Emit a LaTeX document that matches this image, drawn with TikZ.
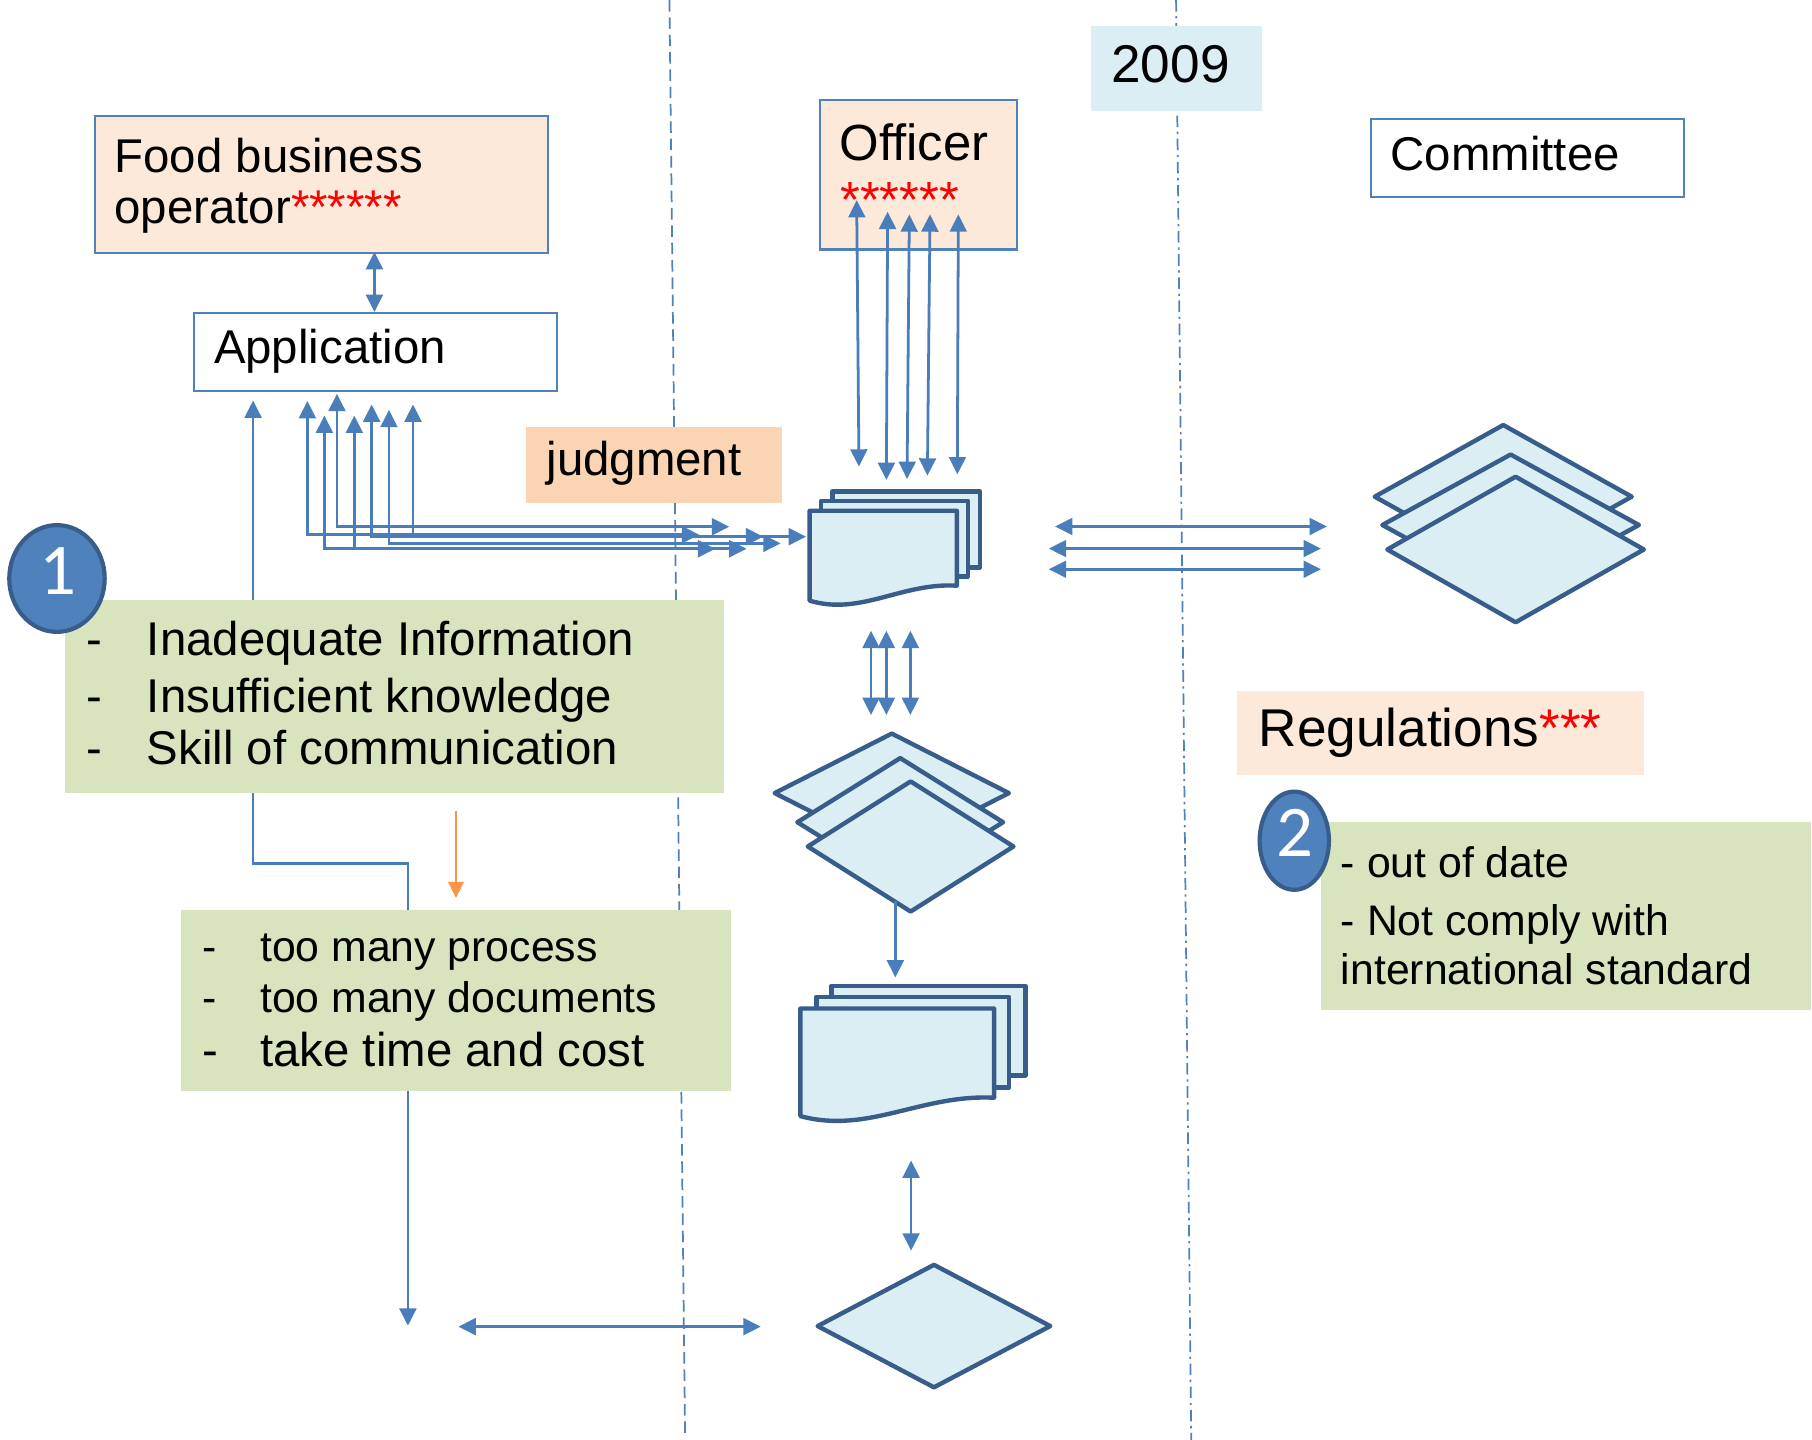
\documentclass[tikz,border=0pt]{standalone}
\usepackage{fontspec}
\setmainfont{Liberation Sans}
\newfontfamily\calib{Carlito}
\usetikzlibrary{arrows.meta,shapes.geometric}
\definecolor{ln}{HTML}{4A7EBB}
\definecolor{bx}{HTML}{4F81BD}
\definecolor{dk}{HTML}{385D8A}
\definecolor{sf}{HTML}{DBEEF4}
\definecolor{pe}{HTML}{FDE9D9}
\definecolor{pj}{HTML}{FBD4B4}
\definecolor{gr}{HTML}{D7E4BD}
\definecolor{og}{HTML}{F79646}
\begin{document}
\begin{tikzpicture}[x=1pt,y=-1pt,>={Triangle[length=15pt,width=14.5pt]},
  conn/.style={draw=ln,line width=2.4pt},
  box/.style={draw=bx,line width=1.8pt,inner sep=0,anchor=north west},
  flat/.style={inner sep=0,anchor=north west},
  txt/.style={inner sep=0,anchor=base west,font=\fontsize{41}{49}\selectfont},
  txtb/.style={inner sep=0,anchor=base west,font=\fontsize{46}{55}\selectfont},
  txts/.style={inner sep=0,anchor=base west,font=\fontsize{37}{44}\selectfont},
  shp/.style={draw=dk,fill=sf,line width=3.8pt,line join=round},
  dia/.style={shp,diamond,inner sep=0,outer sep=0},
  badge/.style={ellipse,draw=dk,fill=bx,line width=3.6pt,inner sep=0},
  badgetxt/.style={inner sep=0,anchor=base,text=white,font=\calib\fontsize{63}{63}\selectfont}]
\useasboundingbox (0,0) rectangle (1568,1246);
\fill[white] (0,0) rectangle (1568,1246);

% lane separators
\draw[bx,line width=1.5pt,dash pattern=on 10pt off 5pt] (579.3,0) -- (592.8,1241);
\draw[bx,line width=1.5pt,dash pattern=on 10pt off 4pt on 2pt off 4pt] (1017.7,0) -- (1030.8,1246);

% long elbow connector behind the green boxes
\coordinate (lt) at (219,346.6);
\coordinate (lb) at (353,1147.2);
\draw[conn,<->] (lt) -- (219,747.3) -- (353,747.3) -- (lb);

% boxes
\node[box,fill=pe,minimum width=392.2pt,minimum height=118.2pt] (food) at (81,99.5) {};
\node[box,fill=white,minimum width=314pt,minimum height=67.6pt] (app) at (167,269.8) {};
\node[box,fill=pe,minimum width=170.3pt,minimum height=129.4pt] (officer) at (708.7,85.6) {};
\node[box,fill=white,minimum width=271.2pt,minimum height=67.6pt] (committee) at (1185.5,102.3) {};
\node[flat,fill=sf,minimum width=148pt,minimum height=72.8pt] (year) at (944,22.7) {};
\node[flat,fill=pj,minimum width=221.7pt,minimum height=66.4pt] (judg) at (455,368.9) {};
\node[flat,fill=pe,minimum width=352.2pt,minimum height=72.6pt] (regs) at (1070.5,598) {};
\node[flat,fill=gr,minimum width=570.1pt,minimum height=167.5pt] (g1) at (56.4,518.6) {};
\node[flat,fill=gr,minimum width=476.6pt,minimum height=156.5pt] (g2) at (156,787) {};
\node[flat,fill=gr,minimum width=424pt,minimum height=162.7pt] (g3) at (1143.2,710.8) {};

% texts
\node[txt] (foodA) at (99,149.2) {Food business};
\node[txt] (foodB) at (99,193) {operator{\color{red}******}};
\node[txt] (appT) at (185,314.3) {Application};
\node[inner sep=0,anchor=base west,font=\fontsize{44}{52}\selectfont] (offT) at (726.3,139.3) {Officer};
\node[inner sep=0,anchor=base west,font=\fontsize{44}{52}\selectfont,text=red] (offS) at (727,188.5) {******};
\node[txt] (comT) at (1203.2,147.2) {Committee};
\node[txtb] (yearT) at (961.5,71.6) {2009};
\node[txt] (judgT) at (472.7,411.8) {judgment};
\node[txtb] (regT) at (1089,645.7) {Regulations{\color{red}***}};
\node[txt] (g1a) at (74.6,567) {\makebox[52.3pt][l]{-}Inadequate Information};
\node[txt] (g1b) at (74.6,616.7) {\makebox[52.3pt][l]{-}Insufficient knowledge};
\node[txt] (g1c) at (74.6,661.5) {\makebox[52.3pt][l]{-}Skill of communication};
\node[txts] (g2a) at (175,831.7) {\makebox[50pt][l]{-}too many process};
\node[txts] (g2b) at (175,875.8) {\makebox[50pt][l]{-}too many documents};
\node[txt] (g2c) at (175,923.2) {\makebox[50pt][l]{-}take time and cost};
\node[txts] (g3a) at (1160.2,759.3) {- out of date};
\node[txts] (g3b) at (1160.2,809.9) {- Not comply with};
\node[txts] (g3c) at (1160.2,851.6) {international standard};

% badges
\node[badge,minimum width=82.6pt,minimum height=92.4pt] (c1) at (49.3,500.6) {};
\node[badgetxt] (c1t) at (50.4,514.3) {1};
\node[badge,minimum width=60pt,minimum height=85pt] (c2) at (1120,727.5) {};
\node[badgetxt] (c2t) at (1120.4,741.4) {2};

% document stack 1
\draw[shp] (720.5,425.2) rectangle (847.8,491);
\draw[shp] (710.4,433.3) rectangle (837.4,499);
\draw[shp] (700.6,442) -- (828,442) -- (828,506.8) .. controls (780,504) and (745,533) .. (700.6,519.8) -- cycle;
\coordinate (doc1) at (764,478);

% document stack 2
\draw[shp] (719.4,853) rectangle (887.3,930.5);
\draw[shp] (706.4,862.6) rectangle (873.1,941.2);
\draw[shp] (692.6,872.7) -- (860.2,872.7) -- (860.2,949.9) .. controls (797,946.7) and (750.9,981.7) .. (692.6,965.8) -- cycle;
\coordinate (doc2) at (776,915);

% diamond stack right
\node[dia,minimum width=222.4pt,minimum height=124pt] (dr1) at (1300.8,429.8) {};
\node[dia,minimum width=222pt,minimum height=122pt] (dr2) at (1307.2,454.3) {};
\node[dia,minimum width=222pt,minimum height=126pt] (dr3) at (1311.5,475.5) {};

% diamond stack middle
\node[dia,minimum width=202.7pt,minimum height=103pt] (dm1) at (771.7,686.3) {};
\node[dia,minimum width=178pt,minimum height=111pt] (dm2) at (779,711.5) {};
\node[dia,minimum width=178pt,minimum height=112.6pt] (dm3) at (788,732.5) {};

% bottom diamond
\node[dia,minimum width=201.3pt,minimum height=106pt] (db) at (808.2,1147.5) {};

% food <-> application
\coordinate (fa1) at (324,218);
\coordinate (fa2) at (324,270);
\draw[conn,<->] (fa1) -- (fa2);

% officer <-> documents
\foreach \i/\xa/\ya/\xb/\yb in {1/741.3/173.1/743.3/403.8, 2/768.1/183.2/767/415.4, 3/786.9/185.5/784.9/414.5, 4/804.8/185.5/802.5/411.6, 5/829.3/185.5/828.4/410.5}{
  \coordinate (ob\i) at (\xb,\yb);
  \coordinate (ou\i) at (\xa,\ya);
  \draw[conn,<->] (ou\i) -- (ob\i);
}

% application <-> documents
\foreach \i/\x/\ya/\yb/\xe in {1/266/347/462.7/605, 2/280.7/359.6/474.9/619, 3/291.6/340.8/455.8/631, 4/306.6/359.6/474.9/646, 5/321.6/350/464.4/660.5, 6/336.6/354.7/470.2/675.5, 7/357.4/350/464.4/697.5}{
  \coordinate (ct\i) at (\x,\ya);
  \coordinate (ce\i) at (\xe,\yb);
  \draw[conn,<->] (ct\i) |- (ce\i);
}

% documents <-> middle diamonds
\foreach \i/\x in {1/753.7, 2/767, 3/787.8}{
  \coordinate (dt\i) at (\x,545.8);
  \coordinate (dd\i) at (\x,618.7);
  \draw[conn,<->] (dt\i) -- (dd\i);
}

% documents <-> right diamonds
\foreach \i/\y/\xa/\xb in {1/455.6/913/1148.2, 2/474.7/907.6/1143, 3/492.6/907.6/1143}{
  \coordinate (hl\i) at (\xa,\y);
  \coordinate (hr\i) at (\xb,\y);
  \draw[conn,<->] (hl\i) -- (hr\i);
}

% middle diamonds -> document stack 2
\coordinate (md1) at (774.8,779.7);
\coordinate (md2) at (774.8,845.8);
\draw[conn,->] (md1) -- (md2);

% document stack 2 <-> bottom diamond
\coordinate (bd1) at (788.4,1004.2);
\coordinate (bd2) at (788.4,1082.2);
\draw[conn,<->] (bd1) -- (bd2);

% bottom horizontal
\coordinate (bh1) at (396.7,1148);
\coordinate (bh2) at (658.3,1148);
\draw[conn,<->] (bh1) -- (bh2);

% orange arrow
\coordinate (or1) at (394.6,701.6);
\coordinate (or2) at (394.6,777.2);
\draw[draw=og,line width=2.4pt,->,>={Triangle[length=14pt,width=13pt]}] (or1) -- (or2);
\end{tikzpicture}
\end{document}
